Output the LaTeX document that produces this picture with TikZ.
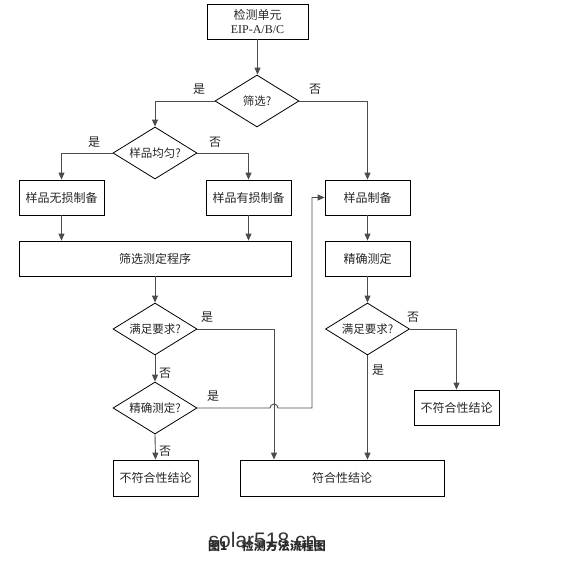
\documentclass[tikz,border=0pt]{standalone}
\usepackage{fontspec}
\setmainfont{Liberation Serif}
\newfontfamily\cjk{Noto Sans CJK SC}
\newfontfamily\wmfont{Liberation Sans}
\usetikzlibrary{shapes.geometric,arrows.meta,calc}
\begin{document}
\begin{tikzpicture}[x=1pt,y=-1pt,
  every node/.style={inner sep=0pt},
  box/.style={draw=black, line width=0.8pt, minimum height=35pt, font=\cjk\fontsize{12}{15}\selectfont, text=black!85},
  dia/.style={draw=black, line width=0.8pt, diamond, aspect=1.6, minimum width=84pt, minimum height=52pt, font=\cjk\fontsize{11.5}{14}\selectfont, text=black!85},
  ln/.style={draw=black!70, line width=0.9pt},
  arr/.style={ln, -{Triangle[length=7pt,width=6pt]}},
  lbl/.style={font=\cjk\fontsize{12}{14}\selectfont, text=black!85}]
\useasboundingbox (0,0) rectangle (581,562);
% boxes
\node[box, minimum width=101pt, minimum height=35pt, align=center] (top) at (257.5,21.5) {检测单元\\[-1pt]{\fontsize{12}{14}\selectfont\rmfamily EIP-A/B/C}};
\node[box, minimum width=85pt] (n1) at (61.5,197.5) {样品无损制备};
\node[box, minimum width=85pt] (n2) at (248.5,197.5) {样品有损制备};
\node[box, minimum width=85pt] (n3) at (367.5,197.5) {样品制备};
\node[box, minimum width=272pt] (n4) at (155,258.5) {筛选测定程序};
\node[box, minimum width=85pt] (n5) at (367.5,258.5) {精确测定};
\node[box, minimum width=85pt, minimum height=36pt] (n6) at (155.5,478) {不符合性结论};
\node[box, minimum width=204pt, minimum height=36pt] (n7) at (342,478) {符合性结论};
\node[box, minimum width=85pt] (n8) at (456.5,407.5) {不符合性结论};
% diamonds
\node[dia] (d1) at (257,101) {筛选?};
\node[dia] (d2) at (155,153) {样品均匀?};
\node[dia] (d3) at (155,329) {满足要求?};
\node[dia] (d4) at (155,408) {精确测定?};
\node[dia] (d5) at (367.5,329) {满足要求?};
\coordinate (c1) at (274,0);
\coordinate (c2) at (312,0);
% connectors
\draw[arr] (top.south) -- (top.south |- d1.north);
\draw[arr] (d1.west) -| (d2.north);
\draw[arr] (d1.east) -| (n3.north);
\draw[arr] (d2.west) -| (n1.north);
\draw[arr] (d2.east) -| (n2.north);
\draw[arr] (n1.south) -- (n1.south |- n4.north);
\draw[arr] (n2.south) -- (n2.south |- n4.north);
\draw[arr] (n3.south) -- (n5.north);
\draw[arr] (n5.south) -- (d5.north);
\draw[arr] (n4.south) -- (d3.north);
\draw[arr] (d3.south) -- (d4.north);
\draw[arr] (d4.south) -- (n6.north);
\draw[arr] (d3.east) -| (c1 |- n7.north);
\draw[arr] (d5.south) -- (d5.south |- n7.north);
\draw[arr] (d5.east) -| (n8.north);
\draw[arr] (d4.east) -- ($(c1 |- d4.east)+(-4,0)$) arc[start angle=180, end angle=0, radius=4pt] -- (c2 |- d4.east) |- (n3.west);
% labels
\node[lbl] (l1) at (199,89) {是};
\node[lbl] (l2) at (315,89) {否};
\node[lbl] (l3) at (94,142) {是};
\node[lbl] (l4) at (215,142) {否};
\node[lbl] (l5) at (207,317) {是};
\node[lbl] (l6) at (165,373) {否};
\node[lbl] (l7) at (213,396) {是};
\node[lbl] (l8) at (165,451) {否};
\node[lbl] (l9) at (413,317) {否};
\node[lbl] (l10) at (378,370) {是};
% caption and watermark
\node[font=\cjk\bfseries\fontsize{12}{14}\selectfont, text=black!85] (cap) at (267,546) {图1\hspace{1.2em}检测方法流程图};
\node[font=\wmfont\fontsize{21}{24}\selectfont, text=black!80] (wm) at (263,540) {solar518.cn};
\end{tikzpicture}
\end{document}
